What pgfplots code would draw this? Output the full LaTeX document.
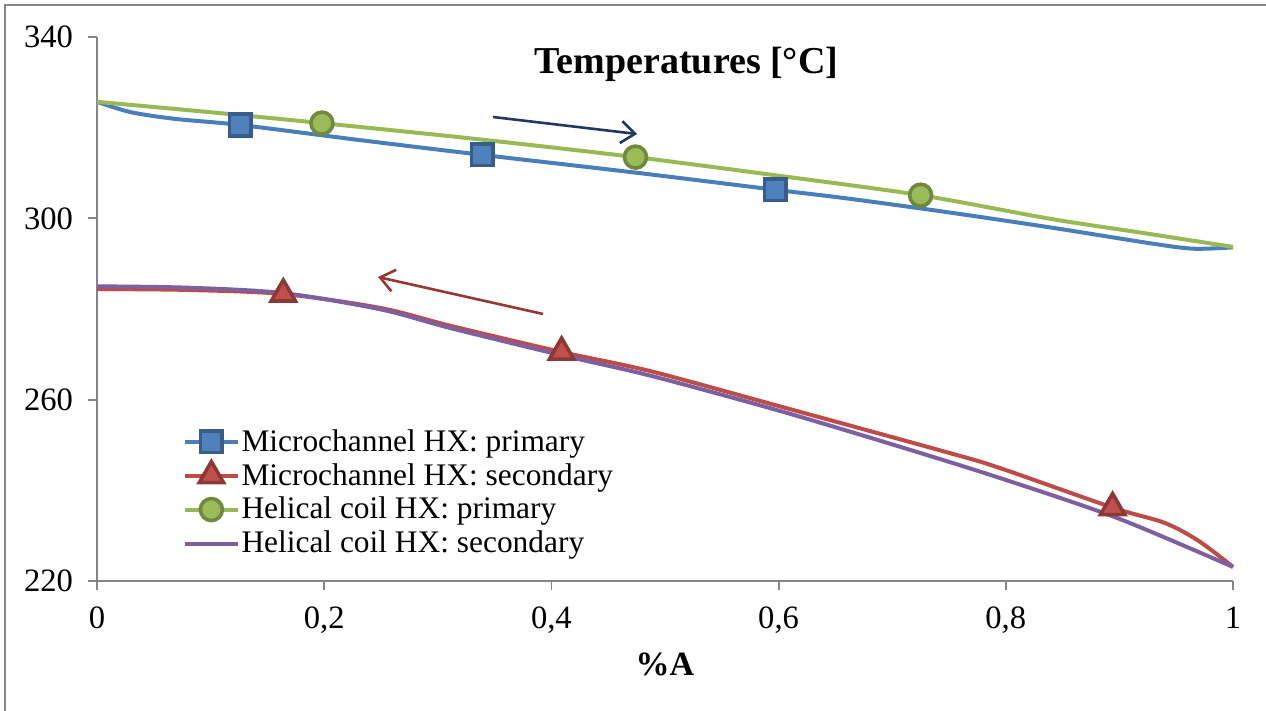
\documentclass[border=0pt]{standalone}
\usepackage{pgfplots}
\pgfplotsset{compat=1.18}
\usepackage{fontspec}
\setmainfont{Liberation Serif}
\usetikzlibrary{arrows.meta}
\definecolor{cblue}{HTML}{4A7EBB}
\definecolor{cbluef}{HTML}{4F81BD}
\definecolor{cbluee}{HTML}{385D8A}
\definecolor{cred}{HTML}{BE4B48}
\definecolor{credf}{HTML}{C0504D}
\definecolor{crede}{HTML}{8C3836}
\definecolor{cgreen}{HTML}{98B954}
\definecolor{cgreenf}{HTML}{9BBB59}
\definecolor{cgreene}{HTML}{71893F}
\definecolor{cpurple}{HTML}{7D60A0}
\definecolor{axgray}{HTML}{868686}
\definecolor{arrblue}{HTML}{1F3864}
\definecolor{arrred}{HTML}{953735}
\begin{document}
\begin{tikzpicture}
\useasboundingbox (0,0) rectangle (633bp,355.5bp);
\draw[axgray,line width=1bp] (2.5bp,0) -- (2.5bp,352.8bp) -- (633bp,352.8bp);
\begin{axis}[
  at={(48.5bp,65bp)}, anchor=south west,
  scale only axis, width=568bp, height=272bp,
  xmin=0, xmax=1, ymin=220, ymax=340,
  axis x line=bottom, axis y line=left,
  axis line style={axgray, line width=0.9bp, -},
  xtick={0,0.2,0.4,0.6,0.8,1},
  ytick={220,260,300,340},
  tick align=outside,
  major tick length=4.5bp,
  tick style={axgray, line width=0.9bp},
  /pgf/number format/assume math mode=true,
  /pgf/number format/use comma,
  ticklabel style={font=\fontsize{16.3bp}{19bp}\selectfont},
  xticklabel style={yshift=-5bp},
  yticklabel style={xshift=-4bp},
  xlabel={\textbf{\%A}},
  xlabel style={font=\fontsize{17bp}{20bp}\selectfont, yshift=-2.5bp},
  clip=false,
  legend style={at={(0.07,0.29)}, anchor=north west, draw=none, fill=none,
    font=\fontsize{15.7bp}{18bp}\selectfont, row sep=3bp,
    nodes={inner sep=0.8bp}},
  legend cell align=left,
  legend image code/.code={\draw[#1, mark indices={2}] plot coordinates {(0bp,0bp)(13.25bp,0bp)(26.5bp,0bp)};},
]
\addplot[cblue, line width=2bp, smooth, mark=square*, mark size=5.4bp,
  mark options={fill=cbluef, draw=cbluee, line width=1.8bp, solid},
  mark indices={4,6,8}] coordinates {
 (0,325.7) (0.03,323.4) (0.07,321.9) (0.126,320.6) (0.23,317.3) (0.339,314.0)
 (0.47,310.2) (0.597,306.3) (0.663,304.3) (0.75,301.3) (0.839,298.0)
 (0.927,294.5) (0.965,293.3) (1,293.6)};
\addlegendentry{Microchannel HX: primary}
\addplot[cred, line width=2bp, smooth, mark=triangle*, mark size=7bp,
  mark options={fill=credf, draw=crede, line width=1.8bp, solid},
  mark indices={3,6,11}] coordinates {
 (0,284.4) (0.08,284.2) (0.164,283.3) (0.25,280.2) (0.311,276.3) (0.409,270.5)
 (0.487,266.3) (0.6,258.6) (0.751,248.2) (0.795,244.9) (0.894,236.2)
 (0.94,232.8) (0.97,228.8) (1,223.1)};
\addlegendentry{Microchannel HX: secondary}
\addplot[cgreen, line width=2bp, smooth, mark=*, mark size=5.5bp,
  mark options={fill=cgreenf, draw=cgreene, line width=1.8bp, solid},
  mark indices={3,5,7}] coordinates {
 (0,325.7) (0.1,323.4) (0.198,321.0) (0.33,317.6) (0.474,313.5) (0.6,309.4)
 (0.725,305.1) (0.839,299.9) (0.92,296.8) (1,293.7)};
\addlegendentry{Helical coil HX: primary}
\addplot[cpurple, line width=2bp, smooth] coordinates {
 (0,285.0) (0.08,284.7) (0.164,283.5) (0.25,279.9) (0.311,275.8) (0.409,269.8)
 (0.487,265.3) (0.6,257.6) (0.707,249.6) (0.795,242.7) (0.898,233.9) (1,223.1)};
\addlegendentry{Helical coil HX: secondary}
\draw[arrblue, line width=1.3bp, -{Straight Barb[length=7bp,width=11bp]}]
  (axis cs:0.3486,322.35) -- (axis cs:0.4754,318.6);
\draw[arrred, line width=1.3bp, -{Straight Barb[length=7bp,width=11bp]}]
  (axis cs:0.3926,278.9) -- (axis cs:0.2474,287.05);
\node[font=\fontsize{19bp}{22bp}\selectfont\bfseries] at (axis cs:0.519,334.0) {Temperatures [°C]};
\end{axis}
\end{tikzpicture}
\end{document}
